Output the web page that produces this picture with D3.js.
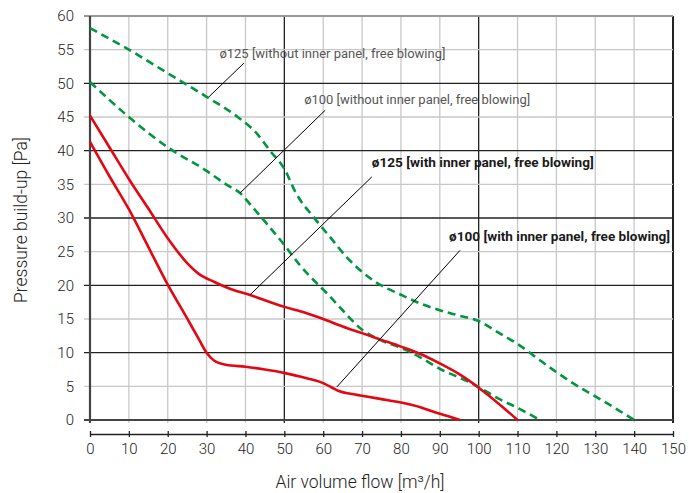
<!DOCTYPE html>
<html>
<head>
<meta charset="utf-8">
<script src="https://cdn.jsdelivr.net/npm/d3@7"></script>
<style>
  body { margin: 0; background: #fff; }
  text { font-family: Roboto, "Liberation Sans", sans-serif; }
</style>
</head>
<body>
<div id="chart"></div>
<script>
// curves: [air flow m3/h, pressure Pa]
const d125Free = [[0,58.2],[10,55],[20,51.5],[30,48],[38,45],[43,42.5],[46.3,40],[50,37.3],[53,33.7],[58,29.8],[62,27],[66,24.2],[70,22],[74,20.3],[80,18.6],[85,17.3],[90,16.3],[95,15.5],[100,14.7],[105,13],[110,11.3],[115,9.2],[120,7.1],[127,4.5],[133,2.5],[140,0]];
const d100Free = [[0,50.2],[10,45],[20,40.5],[30,37],[35,35],[38.6,33.7],[42,31.5],[45.4,29.2],[50,26],[54,23],[58,20.5],[61,18.8],[65,16.3],[70,13.4],[75,11.8],[80,10.7],[85,9.3],[90,7.6],[95,6.3],[100,4.9],[105,3.2],[110,1.8],[115.8,0]];
const d125Panel = [[0,45.2],[5,40.5],[10,35.8],[15,31.4],[20,27],[25,23.3],[28,21.7],[32,20.5],[36,19.5],[41,18.6],[50,16.8],[55,16],[60,15],[65,13.9],[70,12.9],[75,11.9],[80,10.9],[85,9.8],[90,8.4],[95,6.8],[100,4.8],[105,2.5],[110,0]];
const d100Panel = [[0,41.3],[5,36.2],[10,31.3],[15,25.7],[20,20.1],[25,15.1],[28,12],[30,10],[32,8.8],[35,8.2],[40,7.9],[45,7.5],[50,7],[55,6.3],[59,5.7],[62,4.9],[64,4.3],[67,3.9],[70,3.6],[75,3.1],[80,2.6],[85,1.9],[88,1.3],[92,0.6],[95.2,0]];

const seriesNames = [
    "ø125 [without inner panel, free blowing]",
    "ø100 [without inner panel, free blowing]",
    "ø125 [with inner panel, free blowing]",
    "ø100 [with inner panel, free blowing]"
];

const xTicks = d3.range(0, 151, 10);
const yTicks = d3.range(0, 61, 5);

class PressureCurveVis {

    constructor(parentElement) {
        this.parentElement = parentElement;
        this.series = [
            { name: seriesNames[0], values: d125Free, color: "#00963f", dashed: true },
            { name: seriesNames[1], values: d100Free, color: "#00963f", dashed: true },
            { name: seriesNames[2], values: d125Panel, color: "#e30613", dashed: false },
            { name: seriesNames[3], values: d100Panel, color: "#e30613", dashed: false }
        ];
        this.initVis();
    }

    initVis() {
        let vis = this;

        vis.margin = { top: 16, right: 16, bottom: 73, left: 90 };
        vis.width = 689 - vis.margin.left - vis.margin.right;
        vis.height = 493 - vis.margin.top - vis.margin.bottom;

        vis.svg = d3.select("#" + vis.parentElement).append("svg")
            .attr("width", 689)
            .attr("height", 493)
            .append("g")
            .attr("transform", "translate(" + vis.margin.left + "," + vis.margin.top + ")");

        vis.x = d3.scaleLinear().domain([0, 150]).range([0, vis.width]);
        vis.y = d3.scaleLinear().domain([0, 60]).range([vis.height, 0]);

        // light grid first, dark (every 50 / every 10) on top
        let isMajorX = d => d % 50 === 0;
        let isMajorY = d => d % 10 === 0 && d > 0 && d < 60;

        vis.svg.selectAll(".vgrid")
            .data(xTicks.slice().sort((a, b) => isMajorX(a) - isMajorX(b)))
            .enter().append("line")
            .attr("class", "vgrid")
            .attr("x1", d => vis.x(d)).attr("x2", d => vis.x(d))
            .attr("y1", 0).attr("y2", vis.height + 3)
            .attr("stroke", d => isMajorX(d) ? "#222" : "#c8c8c8")
            .attr("stroke-width", d => (d === 0 || d === 150) ? 2 : 1.3);

        vis.svg.selectAll(".hgrid")
            .data(yTicks.slice().sort((a, b) => isMajorY(a) - isMajorY(b)))
            .enter().append("line")
            .attr("class", "hgrid")
            .attr("x1", -6).attr("x2", vis.width)
            .attr("y1", d => vis.y(d)).attr("y2", d => vis.y(d))
            .attr("stroke", d => isMajorY(d) ? "#222" : (d === 60 ? "#999" : "#c8c8c8"))
            .attr("stroke-width", d => d === 0 ? 2.2 : (d === 60 ? 2 : 1.3));

        // left and bottom frame
        vis.svg.append("line")
            .attr("x1", 0).attr("x2", 0).attr("y1", 0).attr("y2", vis.height + 3)
            .attr("stroke", "#444").attr("stroke-width", 2.2);
        vis.svg.append("line")
            .attr("x1", -6).attr("x2", vis.width).attr("y1", vis.height).attr("y2", vis.height)
            .attr("stroke", "#444").attr("stroke-width", 2.2);

        // y tick labels
        vis.svg.selectAll(".ylabel")
            .data(yTicks)
            .enter().append("text")
            .attr("class", "ylabel")
            .attr("x", -16)
            .attr("y", d => vis.y(d))
            .attr("dy", "0.36em")
            .attr("text-anchor", "end")
            .attr("font-size", 15)
            .attr("font-weight", 300)
            .attr("fill", "#222")
            .text(d => d);

        // x axis sits a bit under the plot
        vis.xAxis = d3.axisBottom(vis.x).tickValues(xTicks).tickSize(3).tickSizeOuter(0).tickPadding(6);
        let xg = vis.svg.append("g")
            .attr("transform", "translate(0," + (vis.height + 14) + ")")
            .call(vis.xAxis);
        xg.select(".domain").attr("stroke", "#222").attr("stroke-width", 1.3);
        xg.selectAll(".tick line").attr("y1", -3).attr("stroke", "#222").attr("stroke-width", 1.3);
        xg.selectAll(".tick text")
            .attr("font-family", "Roboto, sans-serif")
            .attr("font-size", 15)
            .attr("font-weight", 300)
            .attr("fill", "#222");

        // axis titles
        vis.svg.append("text")
            .attr("x", 270)
            .attr("y", vis.height + 68)
            .attr("text-anchor", "middle")
            .attr("font-size", 17.5)
            .attr("font-weight", 300)
            .attr("fill", "#222")
            .text("Air volume flow [m³/h]");

        vis.svg.append("text")
            .attr("transform", "translate(-63," + (vis.height / 2 + 2) + ") rotate(-90)")
            .attr("text-anchor", "middle")
            .attr("font-size", 17.5)
            .attr("font-weight", 300)
            .attr("fill", "#222")
            .text("Pressure build-up [Pa]");

        vis.line = d3.line()
            .x(d => vis.x(d[0]))
            .y(d => vis.y(d[1]))
            .curve(d3.curveMonotoneX);

        this.updateVis();
    }

    updateVis() {
        let vis = this;

        vis.svg.selectAll(".curve")
            .data(vis.series)
            .enter().append("path")
            .attr("class", "curve")
            .attr("d", d => vis.line(d.values))
            .attr("fill", "none")
            .attr("stroke", d => d.color)
            .attr("stroke-width", 2.6)
            .attr("stroke-dasharray", d => d.dashed ? "8,5" : null);

        // callouts: label anchor and where the leader touches the curve (data units)
        let callouts = [
            { text: seriesNames[0], tx: 33.3, ty: 54.4, sx: 39.6, sy: 53.0, ex: 30.6, ey: 48, bold: false, len: 226 },
            { text: seriesNames[1], tx: 55.1, ty: 47.5, sx: 60.5, sy: 46, ex: 38.6, ey: 33.7, bold: false, len: 226 },
            { text: seriesNames[2], tx: 72.5, ty: 38.2, sx: 72.5, sy: 36.1, ex: 41.2, ey: 18.6, bold: true, len: 222 },
            { text: seriesNames[3], tx: 92.4, ty: 27.2, sx: 95.2, sy: 25.2, ex: 63.5, ey: 4.9, bold: true, len: 221 }
        ];

        vis.svg.selectAll(".leader")
            .data(callouts)
            .enter().append("line")
            .attr("class", "leader")
            .attr("x1", d => vis.x(d.sx)).attr("y1", d => vis.y(d.sy))
            .attr("x2", d => vis.x(d.ex)).attr("y2", d => vis.y(d.ey))
            .attr("stroke", "#000")
            .attr("stroke-width", 1);

        vis.svg.selectAll(".callout")
            .data(callouts)
            .enter().append("text")
            .attr("class", "callout")
            .attr("x", d => vis.x(d.tx))
            .attr("y", d => vis.y(d.ty))
            .attr("dy", "0.35em")
            .attr("font-size", 12)
            .attr("font-weight", d => d.bold ? 700 : 400)
            .attr("fill", d => d.bold ? "#1a1a1a" : "#555")
            .attr("textLength", d => d.len)
            .attr("lengthAdjust", "spacingAndGlyphs")
            .text(d => d.text);
    }
}

new PressureCurveVis("chart");
</script>
</body>
</html>
